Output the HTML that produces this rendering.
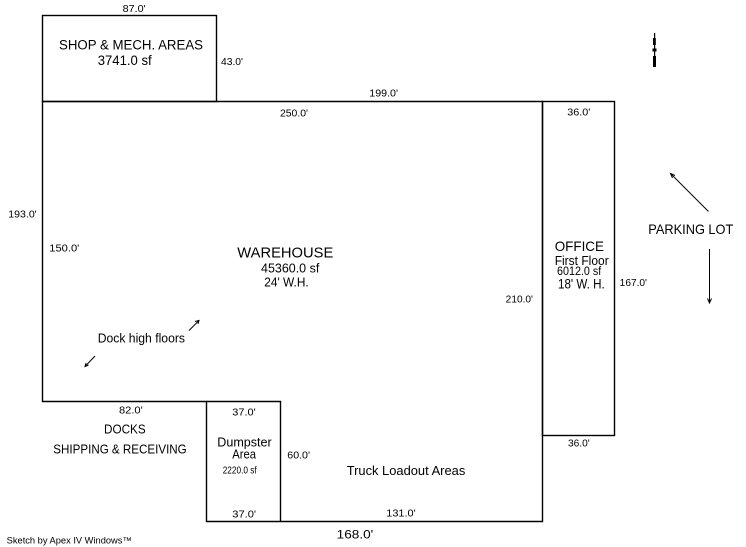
<!DOCTYPE html>
<html>
<head>
<meta charset="utf-8">
<style>
html,body{margin:0;padding:0;background:#fff;}
svg{display:block;}
text{font-family:"Liberation Sans",Arial,sans-serif;fill:#000;}
</style>
</head>
<body>
<svg width="746" height="547" viewBox="0 0 746 547" xmlns="http://www.w3.org/2000/svg">
<rect x="0" y="0" width="746" height="547" fill="#fff"/>
<g fill="none" stroke="#000" stroke-width="1.4">
  <!-- shop -->
  <rect x="42.5" y="15.5" width="174" height="86"/>
  <!-- warehouse outline -->
  <polyline points="42.5,101.5 542.5,101.5 542.5,521.5 206.5,521.5 206.5,401.5 42.5,401.5 42.5,101.5"/>
  <!-- office -->
  <rect x="542.5" y="101.5" width="72" height="334"/>
  <!-- dumpster -->
  <polyline points="206.5,401.5 280.5,401.5 280.5,521.5"/>
</g>
<!-- north arrow -->
<g fill="#000" stroke="none">
  <rect x="654" y="33" width="1.2" height="34"/>
  <rect x="653" y="38" width="2.8" height="7"/>
  <rect x="652.5" y="48.5" width="4" height="3"/>
  <rect x="653" y="56" width="3" height="11"/>
</g>
<!-- parking arrows -->
<g stroke="#000" stroke-width="1" fill="none">
  <line x1="670.5" y1="173.5" x2="708.5" y2="211.5"/>
  <polyline points="675,175.5 670.5,173.5 672.5,178"/>
  <line x1="709.5" y1="249" x2="709.5" y2="303"/>
  <polyline points="707.5,298.5 709.5,303 711.5,298.5"/>
  <!-- dock arrows -->
  <line x1="189" y1="330.5" x2="199" y2="320.5"/>
  <polyline points="195,321.5 199,320.5 198,324"/>
  <line x1="85" y1="366.5" x2="95" y2="356"/>
  <polyline points="88.5,365 85,366.5 86,363"/>
</g>
<!-- dimension labels -->
<g font-size="10">
  <text x="122.7" y="12" textLength="23" lengthAdjust="spacingAndGlyphs">87.0'</text>
  <text x="221" y="65" textLength="22" lengthAdjust="spacingAndGlyphs">43.0'</text>
  <text x="369.3" y="96.5" textLength="28.7" lengthAdjust="spacingAndGlyphs">199.0'</text>
  <text x="280" y="116.5" textLength="28" lengthAdjust="spacingAndGlyphs">250.0'</text>
  <text x="567.3" y="115.5" textLength="23" lengthAdjust="spacingAndGlyphs">36.0'</text>
  <text x="8.3" y="217.7" textLength="28.4" lengthAdjust="spacingAndGlyphs">193.0'</text>
  <text x="49.3" y="251.7" textLength="30" lengthAdjust="spacingAndGlyphs">150.0'</text>
  <text x="619.7" y="286" textLength="27.3" lengthAdjust="spacingAndGlyphs">167.0'</text>
  <text x="505.7" y="302.3" textLength="27.3" lengthAdjust="spacingAndGlyphs">210.0'</text>
  <text x="119" y="413.3" textLength="23.7" lengthAdjust="spacingAndGlyphs">82.0'</text>
  <text x="232.3" y="415.7" textLength="23.4" lengthAdjust="spacingAndGlyphs">37.0'</text>
  <text x="568" y="446.7" textLength="21.7" lengthAdjust="spacingAndGlyphs">36.0'</text>
  <text x="287.3" y="458.3" textLength="22.7" lengthAdjust="spacingAndGlyphs">60.0'</text>
  <text x="222.7" y="473.3" textLength="34" lengthAdjust="spacingAndGlyphs">2220.0 sf</text>
  <text x="386.3" y="516.6" textLength="29.4" lengthAdjust="spacingAndGlyphs">131.0'</text>
  <text x="232.3" y="517.7" textLength="23.7" lengthAdjust="spacingAndGlyphs">37.0'</text>
</g>
<text x="336.7" y="538.5" font-size="12" textLength="36.6" lengthAdjust="spacingAndGlyphs">168.0'</text>
<!-- room labels -->
<text x="59" y="49.3" font-size="13.5" textLength="144" lengthAdjust="spacingAndGlyphs">SHOP &amp; MECH. AREAS</text>
<text x="97.7" y="65" font-size="13.5" textLength="54" lengthAdjust="spacingAndGlyphs">3741.0 sf</text>
<text x="237.3" y="257.3" font-size="15" textLength="96" lengthAdjust="spacingAndGlyphs">WAREHOUSE</text>
<text x="261" y="272.7" font-size="13" textLength="58.3" lengthAdjust="spacingAndGlyphs">45360.0 sf</text>
<text x="264.3" y="286.7" font-size="13" textLength="44.4" lengthAdjust="spacingAndGlyphs">24' W.H.</text>
<text x="97.7" y="342.7" font-size="13" textLength="87.3" lengthAdjust="spacingAndGlyphs">Dock high floors</text>
<text x="554.7" y="251" font-size="14" textLength="49.3" lengthAdjust="spacingAndGlyphs">OFFICE</text>
<text x="554.7" y="265" font-size="13" textLength="54" lengthAdjust="spacingAndGlyphs">First Floor</text>
<text x="557" y="275" font-size="11.5" textLength="44.3" lengthAdjust="spacingAndGlyphs">6012.0 sf</text>
<text x="558" y="288.3" font-size="14" textLength="46.7" lengthAdjust="spacingAndGlyphs">18' W. H.</text>
<text x="648.3" y="234" font-size="14" textLength="85" lengthAdjust="spacingAndGlyphs">PARKING LOT</text>
<text x="104" y="433.3" font-size="12.5" textLength="41.7" lengthAdjust="spacingAndGlyphs">DOCKS</text>
<text x="53.3" y="453.3" font-size="13" textLength="133.4" lengthAdjust="spacingAndGlyphs">SHIPPING &amp; RECEIVING</text>
<text x="217.3" y="446.7" font-size="12.5" textLength="54.4" lengthAdjust="spacingAndGlyphs">Dumpster</text>
<text x="232.3" y="458.3" font-size="12.5" textLength="23.7" lengthAdjust="spacingAndGlyphs">Area</text>
<text x="346.7" y="475" font-size="13" textLength="118.6" lengthAdjust="spacingAndGlyphs">Truck Loadout Areas</text>
<text x="6.7" y="543.5" font-size="9" textLength="125" lengthAdjust="spacingAndGlyphs">Sketch by Apex IV Windows™</text>
</svg>
</body>
</html>
